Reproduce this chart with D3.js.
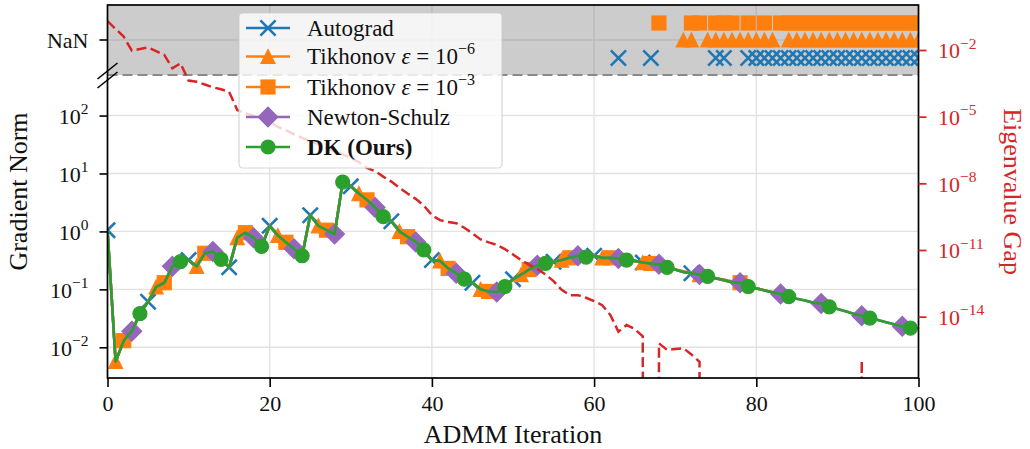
<!DOCTYPE html>
<html><head><meta charset="utf-8">
<script src="https://cdn.jsdelivr.net/npm/d3@7"></script>
<style>
body{margin:0;background:#fff}
svg{display:block}
text{font-family:"Liberation Serif","Times New Roman",serif}
</style>
</head><body>
<svg id="chart" width="1030" height="449"></svg>
<script>
// ---------------- DATA ----------------
const iterations = d3.range(0, 101);
const xTicks = [0, 20, 40, 60, 80, 100];
const leftTicks = [1e-2, 1e-1, 1, 10, 100];
const leftTickExp = ["\u22122", "\u22121", "0", "1", "2"];
const rightTicks = [1e-2, 1e-5, 1e-8, 1e-11, 1e-14];
const rightTickExp = ["\u22122", "\u22125", "\u22128", "\u221211", "\u221214"];

// gradient norm per ADMM iteration (shared trajectory of all methods where finite)
const gradNorm = [
  1.05, 0.0057, 0.013, 0.019, 0.038, 0.061, 0.11, 0.13, 0.25, 0.30,
  0.32, 0.25, 0.42, 0.45, 0.33, 0.24, 0.78, 0.95, 0.78, 0.55,
  1.25, 0.85, 0.65, 0.50, 0.38, 1.9, 1.25, 1.05, 0.9, 7.1,
  6.0, 4.5, 3.5, 2.6, 1.8, 1.5, 1.0, 0.81, 0.66, 0.48,
  0.32, 0.31, 0.23, 0.19, 0.15, 0.13, 0.10, 0.092, 0.09, 0.112,
  0.15, 0.18, 0.22, 0.26, 0.28, 0.30, 0.32, 0.35, 0.38, 0.36,
  0.38, 0.35, 0.35, 0.34, 0.32, 0.31, 0.29, 0.28, 0.27, 0.24,
  0.22, 0.20, 0.19, 0.18, 0.167, 0.155, 0.145, 0.133, 0.13, 0.112,
  0.104, 0.096, 0.089, 0.083, 0.075, 0.069, 0.064, 0.059, 0.057, 0.050,
  0.046, 0.042, 0.038, 0.035, 0.032, 0.0295, 0.027, 0.025, 0.023, 0.0214,
  0.021
];

// iterations where a method produced NaN
const autogradNaN = [63, 67, 75, 76, 79, 80, 81, 82, 83, 84, 85, 86, 87, 88, 89, 90, 91, 92, 93, 94, 95, 96, 97, 98, 99, 100];
const tik6NaN = [71, 72, 74, 75, 76, 77, 78, 79, 80, 81, 82, 84, 85, 86, 87, 88, 89, 90, 91, 92, 93, 94, 95, 96, 97, 98, 99, 100];
const tik3NaN = [68, 72, 73, 75, 76, 77, 79, 81, 83, 84, 85, 86, 87, 88, 89, 90, 91, 92, 93, 94, 95, 96, 97, 98, 99, 100];
const nsNaN = [];
const dkNaN = [];

// eigenvalue gap per iteration (0 = exactly zero gap)
const eigGap = [
  2.0e-1, 8.9e-2, 4.0e-2, 9.3e-3, 1.1e-2, 1.3e-2, 8.9e-3, 6.0e-3, 1.5e-3, 2.5e-3,
  4.2e-4, 3.7e-4, 2.8e-4, 2.1e-4, 1.7e-4, 1.3e-4, 2.0e-5, 1.4e-5, 1.1e-5, 8.9e-6,
  5.6e-6, 3.5e-6, 2.5e-6, 1.6e-6, 1.1e-6, 7.9e-7, 5.6e-7, 4.0e-7, 2.8e-7, 2.0e-7,
  1.4e-7, 8.9e-8, 5.0e-8, 3.5e-8, 2.0e-8, 1.2e-8, 6.3e-9, 3.5e-9, 2.0e-9, 1.0e-9,
  3.7e-10, 2.2e-10, 1.8e-10, 1.6e-10, 1.0e-10, 5.6e-11, 3.0e-11, 2.2e-11, 1.7e-11, 1.1e-11,
  6.3e-12, 3.5e-12, 2.2e-12, 1.4e-12, 7.9e-13, 4.0e-13, 1.6e-13, 9.3e-14, 9.3e-14, 7.1e-14,
  5.0e-14, 3.3e-14, 1.2e-14, 2.1e-15, 4.2e-15, 2.8e-15, 1.3e-15, 0, 6.3e-16, 3.2e-16,
  3.5e-16, 3.8e-16, 2.0e-16, 9.3e-17, 0, 0, 0, 0, 0, 0,
  0, 0, 0, 0, 0, 0, 0, 0, 0, 0,
  0, 0, 0, 1.1e-16, 0, 0, 0, 0, 0, 0,
  0
];

const seriesNames = ["Autograd", "Tikhonov \u03b5 = 10\u22126", "Tikhonov \u03b5 = 10\u22123", "Newton-Schulz", "DK (Ours)"];

// ---------------- STYLE / LAYOUT ----------------
const FONT = '"Liberation Serif","Times New Roman",serif';
const M = {left: 107.5, right: 918.5, top: 5, bottom: 378, breakY: 75, nanY: 40};
const styles = [
  {nan: autogradNaN, color: "#1f77b4", marker: "x", offset: 0, nanDy: 18},
  {nan: tik6NaN, color: "#ff7f0e", marker: "^", offset: 1, nanDy: 0},
  {nan: tik3NaN, color: "#ff7f0e", marker: "s", offset: 2, nanDy: -17},
  {nan: nsNaN, color: "#9467bd", marker: "D", offset: 3, nanDy: 0},
  {nan: dkNaN, color: "#2ca02c", marker: "o", offset: 4, nanDy: 0}
];
const legendRowY = [28, 56.5, 87, 117, 147];

const svg = d3.select("#chart");
const x = d3.scaleLinear().domain([0, 100]).range([M.left, M.right]);
const y = d3.scaleLog().domain([Math.pow(10, -2.53), Math.pow(10, 2.70)]).range([M.bottom, M.breakY]);
const yR = d3.scaleLog().domain([Math.pow(10, -16.76), Math.pow(10, 0.025)]).range([M.bottom, M.top]);

svg.append("defs").append("clipPath").attr("id", "plotClip")
  .append("rect").attr("x", M.left).attr("y", M.top)
  .attr("width", M.right - M.left).attr("height", M.bottom - M.top);

// grid
const grid = svg.append("g");
xTicks.forEach(t => grid.append("line").attr("x1", x(t)).attr("x2", x(t)).attr("y1", M.top).attr("y2", M.bottom)
  .attr("stroke", "#e2e2e2").attr("stroke-width", 1.4));
leftTicks.forEach(t => grid.append("line").attr("x1", M.left).attr("x2", M.right).attr("y1", y(t)).attr("y2", y(t))
  .attr("stroke", "#e2e2e2").attr("stroke-width", 1.4));
grid.append("line").attr("x1", M.left).attr("x2", M.right).attr("y1", M.nanY).attr("y2", M.nanY)
  .attr("stroke", "#e2e2e2").attr("stroke-width", 1.4);

// NaN band
svg.append("rect").attr("x", M.left).attr("y", M.top).attr("width", M.right - M.left).attr("height", M.breakY - M.top)
  .attr("fill", "rgba(128,128,128,0.4)");
svg.append("line").attr("x1", M.left).attr("x2", M.right).attr("y1", M.breakY).attr("y2", M.breakY)
  .attr("stroke", "#8a8a8a").attr("stroke-width", 2).attr("stroke-dasharray", "10,5");

// marker painter
function drawMarker(g, type, cx, cy, color) {
  const ms = 14;
  if (type === "x") {
    const h = ms / 2 + 0.6;
    g.append("path").attr("d", `M${cx - h},${cy - h}L${cx + h},${cy + h}M${cx - h},${cy + h}L${cx + h},${cy - h}`)
      .attr("stroke", color).attr("stroke-width", 2.6).attr("fill", "none");
  } else if (type === "^") {
    const h = ms / 2;
    g.append("path").attr("d", `M${cx},${cy - h}L${cx + h},${cy + h}L${cx - h},${cy + h}Z`)
      .attr("fill", color).attr("stroke", color).attr("stroke-width", 1.2).attr("stroke-linejoin", "miter");
  } else if (type === "s") {
    const h = ms / 2;
    g.append("rect").attr("x", cx - h).attr("y", cy - h).attr("width", ms).attr("height", ms)
      .attr("fill", color).attr("stroke", color).attr("stroke-width", 1.2);
  } else if (type === "D") {
    const h = ms * 0.707;
    g.append("path").attr("d", `M${cx},${cy - h}L${cx + h},${cy}L${cx},${cy + h}L${cx - h},${cy}Z`)
      .attr("fill", color).attr("stroke", color).attr("stroke-width", 1.2);
  } else {
    g.append("circle").attr("cx", cx).attr("cy", cy).attr("r", ms / 2)
      .attr("fill", color).attr("stroke", color).attr("stroke-width", 1.2);
  }
}

// series
const plot = svg.append("g").attr("clip-path", "url(#plotClip)");
const line = d3.line().x(d => x(d.i)).y(d => y(d.v));
styles.forEach((s, si) => {
  const nanSet = new Set(s.nan);
  const valid = iterations.filter(i => !nanSet.has(i)).map(i => ({i, v: gradNorm[i]}));
  const g = plot.append("g");
  g.append("path").datum(valid).attr("d", line).attr("fill", "none")
    .attr("stroke", s.color).attr("stroke-width", 2.6).attr("stroke-linejoin", "round");
  valid.forEach((d, k) => {
    if (k >= s.offset && (k - s.offset) % 5 === 0) drawMarker(g, s.marker, x(d.i), y(d.v), s.color);
  });
  s.nan.forEach(i => drawMarker(g, s.marker, x(i), M.nanY + s.nanDy, s.color));
});

// eigenvalue gap (twin axis)
const gapLine = d3.line().x((v, i) => x(iterations[i])).y(v => yR(v > 0 ? v : 1e-300));
plot.append("path").datum(eigGap).attr("d", gapLine).attr("fill", "none")
  .attr("stroke", "#d62728").attr("stroke-width", 2.5).attr("stroke-dasharray", "10,4.5");

// spines
const sp = svg.append("g").attr("stroke", "#000").attr("stroke-width", 1.7).attr("fill", "none");
sp.append("rect").attr("x", M.left).attr("y", M.top).attr("width", M.right - M.left).attr("height", M.bottom - M.top);

// x axis ticks
const gx = svg.append("g").attr("transform", `translate(0,${M.bottom})`)
  .call(d3.axisBottom(x).tickValues(xTicks).tickSize(9).tickPadding(8).tickFormat(d3.format("d")));
gx.select(".domain").remove();
gx.selectAll(".tick line").attr("stroke", "#000").attr("stroke-width", 1.6);
gx.selectAll(".tick text").attr("font-size", 22).attr("font-family", FONT).attr("fill", "#111");

// left axis ticks
const gy = svg.append("g").attr("transform", `translate(${M.left},0)`)
  .call(d3.axisLeft(y).tickValues(leftTicks).tickSize(8).tickFormat(""));
gy.select(".domain").remove();
gy.selectAll(".tick line").attr("stroke", "#000").attr("stroke-width", 1.6);
svg.append("line").attr("x1", M.left - 8).attr("x2", M.left).attr("y1", M.nanY).attr("y2", M.nanY)
  .attr("stroke", "#000").attr("stroke-width", 1.6);
leftTicks.forEach((t, k) => {
  const tx = svg.append("text").attr("x", 88.5).attr("y", y(t) + 8.3).attr("text-anchor", "end")
    .attr("font-size", 22).attr("fill", "#111");
  tx.append("tspan").text("10");
  tx.append("tspan").attr("dy", -9.5).attr("font-size", 15.5).text(leftTickExp[k]);
});
svg.append("text").attr("x", 88.5).attr("y", M.nanY + 7.5).attr("text-anchor", "end")
  .attr("font-size", 22).attr("fill", "#111").text("NaN");

// right axis ticks (red)
const gr = svg.append("g").attr("transform", `translate(${M.right},0)`)
  .call(d3.axisRight(yR).tickValues(rightTicks).tickSize(8).tickFormat(""));
gr.select(".domain").remove();
gr.selectAll(".tick line").attr("stroke", "#d62728").attr("stroke-width", 1.8);
rightTicks.forEach((t, k) => {
  const tx = svg.append("text").attr("x", 938).attr("y", yR(t) + 8.3).attr("text-anchor", "start")
    .attr("font-size", 22).attr("fill", "#d62728");
  tx.append("tspan").text("10");
  tx.append("tspan").attr("dy", -9.5).attr("font-size", 15.5).text(rightTickExp[k]);
});

// break marks
[71, 80].forEach(cy => svg.append("line").attr("x1", M.left - 10).attr("y1", cy + 8).attr("x2", M.left + 10).attr("y2", cy - 8)
  .attr("stroke", "#000").attr("stroke-width", 1.6));

// axis labels
svg.append("text").attr("x", (M.left + M.right) / 2).attr("y", 443).attr("text-anchor", "middle")
  .attr("font-size", 26).attr("fill", "#111").text("ADMM Iteration");
svg.append("text").attr("transform", `translate(26.5,${(M.top + M.bottom) / 2}) rotate(-90)`).attr("text-anchor", "middle")
  .attr("font-size", 26).attr("fill", "#111").text("Gradient Norm");
svg.append("text").attr("transform", `translate(1004,${(M.top + M.bottom) / 2}) rotate(90)`).attr("text-anchor", "middle")
  .attr("font-size", 26).attr("fill", "#d62728").text("Eigenvalue Gap");

// legend
const lg = svg.append("g");
lg.append("rect").attr("x", 239).attr("y", 13).attr("width", 263).attr("height", 155).attr("rx", 4)
  .attr("fill", "rgba(255,255,255,0.8)").attr("stroke", "rgba(204,204,204,0.8)").attr("stroke-width", 1.2);
styles.forEach((s, k) => {
  const cy = legendRowY[k];
  lg.append("line").attr("x1", 246).attr("x2", 290).attr("y1", cy).attr("y2", cy)
    .attr("stroke", s.color).attr("stroke-width", 2.6);
  drawMarker(lg, s.marker, 268, cy, s.color);
  const tx = lg.append("text").attr("x", 307).attr("y", cy + 7.5).attr("font-size", 23).attr("fill", "#111");
  const name = seriesNames[k];
  const m = name.match(/^(Tikhonov )(\u03b5)( = 10)(.*)$/);
  if (m) {
    tx.append("tspan").text(m[1]);
    tx.append("tspan").attr("font-style", "italic").text(m[2]);
    tx.append("tspan").text(m[3]);
    tx.append("tspan").attr("dy", -10).attr("font-size", 16).text(m[4]);
  } else {
    tx.text(name);
    if (k === 4) tx.attr("font-weight", "bold");
  }
});
</script>
</body></html>
